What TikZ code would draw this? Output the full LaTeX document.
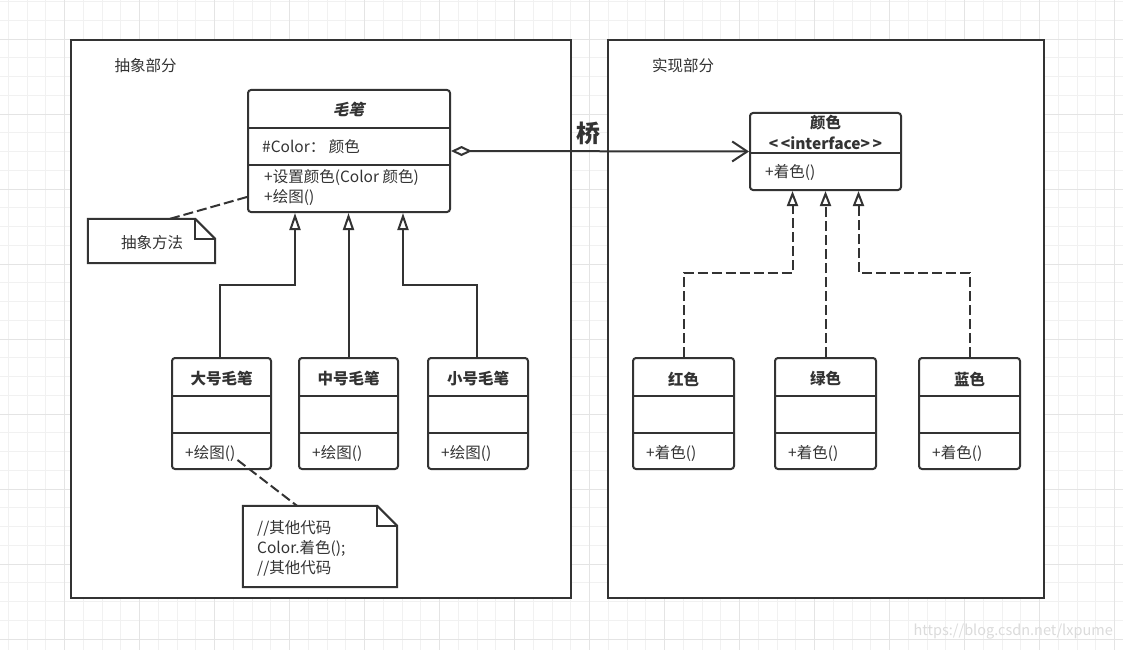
\documentclass[tikz,border=0pt]{standalone}
\usepackage{fontspec}
\setmainfont{Noto Sans CJK SC}
\usetikzlibrary{arrows.meta}
\definecolor{ink}{HTML}{333333}
\definecolor{gminor}{HTML}{F1F1F1}
\definecolor{gmajor}{HTML}{E4E4E4}
\begin{document}
\begin{tikzpicture}[x=1pt,y=-1pt,
  frame/.style={draw=ink, line width=2.2pt, fill=white, inner sep=0pt},
  cls/.style={draw=ink, line width=2pt, rounded corners=3pt, fill=white, inner sep=0pt},
  notebox/.style={inner sep=0pt},
  notepath/.style={draw=ink, line width=2pt, fill=white, line join=miter},
  divider/.style={draw=ink, line width=2pt},
  txt/.style={text=ink, font=\fontsize{15.5}{18}\selectfont, inner sep=0pt},
  ttl/.style={text=ink, font=\fontsize{15.5}{18}\selectfont\bfseries, inner sep=0pt},
  inh/.style={draw=ink, line width=2pt, -{Triangle[open, length=17pt, width=11pt]}},
  real/.style={draw=ink, line width=2pt, dash pattern=on 10pt off 4pt, -{Triangle[open, length=15pt, width=11pt]}},
  dline/.style={draw=ink, line width=2pt, dash pattern=on 10pt off 4pt},
  assoc/.style={draw=ink, line width=2pt, {Diamond[open, length=21pt, width=10pt]}-{Straight Barb[length=15pt, width=20pt]}}
]
\useasboundingbox (0,0) rectangle (1123,650);
\fill[white] (0,0) rectangle (1123,650);
% grid
\foreach \i in {0,...,59} \draw[gminor, line width=1pt] ({8.3+18.75*\i},0) -- ({8.3+18.75*\i},650);
\foreach \i in {0,...,34} \draw[gminor, line width=1pt] (0,{1.7+18.75*\i}) -- (1123,{1.7+18.75*\i});
\foreach \i in {3,7,...,59} \draw[gmajor, line width=1pt] ({8.3+18.75*\i},0) -- ({8.3+18.75*\i},650);
\foreach \i in {2,6,...,34} \draw[gmajor, line width=1pt] (0,{1.7+18.75*\i}) -- (1123,{1.7+18.75*\i});
\node[text=gray!28, font=\fontsize{14.5}{18}\selectfont, inner sep=0pt, anchor=east] (wm) at (1113,632) {https://blog.csdn.net/lxpume};

% frames
\node[frame, minimum width=500pt, minimum height=558pt] (fL) at (321,319) {};
\node[frame, minimum width=436pt, minimum height=558pt] (fR) at (826,319) {};
\node[txt] (fLt) at (145.5,66) {抽象部分};
\node[txt] (fRt) at (683,66) {实现部分};

% abstraction class
\node[cls, minimum width=202pt, minimum height=122pt] (mb) at (349,151) {};
\draw[divider] (mb.west |- 0,128) -- (mb.east |- 0,128);
\draw[divider] (mb.west |- 0,165) -- (mb.east |- 0,165);
\node[ttl, xslant=0.25, transform shape] (mbT) at (350,109) {毛笔};
\node[txt, anchor=west] (mbA) at (262,147) {\#Color： 颜色};
\node[txt, anchor=west] (mbM1) at (264,177) {+设置颜色(Color 颜色)};
\node[txt, anchor=west] (mbM2) at (264,197) {+绘图()};

% interface
\node[cls, minimum width=151pt, minimum height=77pt] (ic) at (825.5,151.5) {};
\draw[divider] (ic.west |- 0,153) -- (ic.east |- 0,153);
\node[ttl] (icT) at (825.5,123) {颜色};
\node[ttl] (icS) at (825.5,143) {<\,<interface>\,>};
\node[txt, anchor=west] (icM) at (765,172) {+着色()};

% refined classes
\foreach \n/\cx/\w/\t/\m in {big/221.5/99/大号毛笔/+绘图(), mid/348.5/99/中号毛笔/+绘图(), small/478/100/小号毛笔/+绘图(),
  red/683.5/101/红色/+着色(), green/825.5/101/绿色/+着色(), blue/969.5/101/蓝色/+着色()} {
  \node[cls, minimum width=\w pt, minimum height=111pt] (\n) at (\cx,413.5) {};
  \draw[divider] (\n.west |- 0,396) -- (\n.east |- 0,396);
  \draw[divider] (\n.west |- 0,433) -- (\n.east |- 0,433);
  \node[ttl] (\n-T) at (\cx,379) {\t};
  \node[txt, anchor=west] (\n-M) at ([xshift=14pt]\n.west |- 0,453) {\m};
}

% notes
\node[notebox, minimum width=127pt, minimum height=44pt] (n1) at (151.5,241) {};
\draw[notepath] (n1.north west) -- ([xshift=-20pt]n1.north east) -- ([yshift=-20pt]n1.north east) -- (n1.south east) -- (n1.south west) -- cycle;
\draw[notepath, fill=none] ([xshift=-20pt]n1.north east) |- ([yshift=-20pt]n1.north east);
\node[txt] (n1t) at (152,243) {抽象方法};

\node[notebox, minimum width=154pt, minimum height=81pt] (n2) at (320,546.5) {};
\draw[notepath] (n2.north west) -- ([xshift=-20pt]n2.north east) -- ([yshift=-20pt]n2.north east) -- (n2.south east) -- (n2.south west) -- cycle;
\draw[notepath, fill=none] ([xshift=-20pt]n2.north east) |- ([yshift=-20pt]n2.north east);
\node[txt, anchor=north west, align=left, font=\fontsize{15.5}{20}\selectfont] (n2t) at (257,520) {//其他代码\\Color.着色();\\//其他代码};

% connectors
\draw[dline] ([xshift=18.5pt]n1.north) -- ([yshift=-46pt]mb.west);
\draw[dline] ([xshift=2pt,yshift=-7pt]big-M.east) -- ([xshift=-23pt]n2.north);

\draw[inh] ([xshift=-1.5pt]big.north) -- ++(0,-72) -| ([xshift=-54pt]mb.south);
\draw[inh] (mid.north) -- (mid.north |- mb.south);
\draw[inh] ([xshift=-1pt]small.north) -- ++(0,-72) -| ([xshift=54pt]mb.south);

\draw[real] (red.north) -- ++(0,-84) -| ([xshift=-33pt]ic.south);
\draw[real] (green.north) -- (green.north |- ic.south);
\draw[real] (blue.north) -- ++(0,-84) -| ([xshift=33pt]ic.south);

\draw[assoc] (mb.east) -- (ic.west);
\node[text=ink, font=\fontsize{24}{28}\selectfont\bfseries, inner sep=0pt] (bridge) at (588,133) {桥};
\end{tikzpicture}
\end{document}
